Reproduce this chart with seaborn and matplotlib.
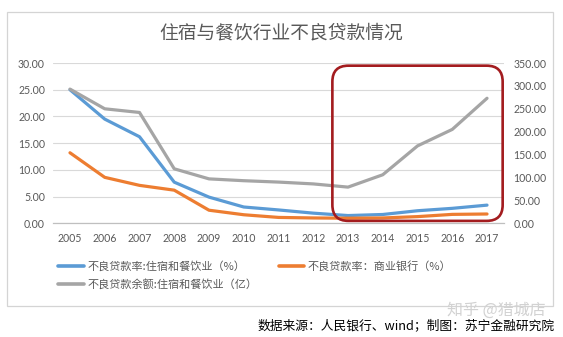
import numpy as np
import pandas as pd
import matplotlib
matplotlib.use("Agg")
import matplotlib.pyplot as plt
from matplotlib.patches import FancyBboxPatch, Rectangle
from matplotlib.transforms import IdentityTransform
from matplotlib.ticker import FormatStrFormatter, FixedLocator
import seaborn as sns

# ---- data ----
years = [2005, 2006, 2007, 2008, 2009, 2010, 2011, 2012, 2013, 2014, 2015, 2016, 2017]
npl_ratio_hotel = [25.0, 19.5, 16.2, 7.7, 4.9, 3.05, 2.5, 1.9, 1.45, 1.65, 2.35, 2.8, 3.4]
npl_ratio_bank = [13.2, 8.6, 7.1, 6.2, 2.45, 1.6, 1.1, 1.0, 0.95, 1.0, 1.25, 1.67, 1.74]
npl_balance_hotel = [293, 250, 242, 119, 97, 93, 90, 86, 79, 106, 169, 205, 273]

label_hotel = "不良贷款率:住宿和餐饮业（%）"
label_bank = "不良贷款率：商业银行（%）"
label_balance = "不良贷款余额:住宿和餐饮业（亿）"

df = pd.DataFrame({
    "year": years,
    "hotel": npl_ratio_hotel,
    "bank": npl_ratio_bank,
    "balance": npl_balance_hotel,
})

BLUE = "#5B9BD5"
ORANGE = "#ED7D31"
GREY = "#A5A5A5"
TEXT = "#595959"
CJK = ["Noto Sans CJK SC", "DejaVu Sans"]

sns.set_theme(style="white")
plt.rcParams["font.family"] = ["Lato", "Noto Sans CJK SC", "DejaVu Sans"]
plt.rcParams["axes.unicode_minus"] = False

fig = plt.figure(figsize=(5.63, 3.37), dpi=100)
fig.patch.set_facecolor("white")

# plot area in pixels: x 52.6..504.4, y 63..223.3 (from top)
W, H = 563, 337
ax = fig.add_axes([52.6 / W, 1 - 223.3 / H, (504.4 - 52.6) / W, (223.3 - 63) / H])
ax2 = ax.twinx()

lw = 2.3
sns.lineplot(data=df, x="year", y="hotel", ax=ax, color=BLUE, linewidth=lw,
             label=label_hotel, legend=False)
sns.lineplot(data=df, x="year", y="bank", ax=ax, color=ORANGE, linewidth=lw,
             label=label_bank, legend=False)
sns.lineplot(data=df, x="year", y="balance", ax=ax2, color=GREY, linewidth=lw,
             label=label_balance, legend=False)

# axes limits and ticks
ax.set_xlim(years[0] - 0.5, years[-1] + 0.5)
ax.set_ylim(0, 30)
ax2.set_ylim(0, 350)
ax.set_yticks(np.arange(0, 31, 5))
ax2.set_yticks(np.arange(0, 351, 50))
ax.yaxis.set_major_formatter(FormatStrFormatter("%.2f"))
ax2.yaxis.set_major_formatter(FormatStrFormatter("%.2f"))
ax.set_xticks(years)
ax.set_xticklabels([str(y) for y in years])
ax.xaxis.set_minor_locator(FixedLocator(np.arange(years[0] - 0.5, years[-1] + 1, 1)))

for a in (ax, ax2):
    a.set_xlabel("")
    a.set_ylabel("")
    for s in ("top", "left", "right"):
        a.spines[s].set_visible(False)
    a.spines["bottom"].set_color("#bfbfbf")
    a.spines["bottom"].set_linewidth(0.8)
    a.set_facecolor("none")

ax.tick_params(axis="x", which="major", length=0, pad=7, labelsize=7.6, labelcolor=TEXT)
ax.tick_params(axis="x", which="minor", length=3.5, width=0.8, color="#bfbfbf", direction="out")
ax.tick_params(axis="y", length=0, pad=5.5, labelsize=7.6, labelcolor=TEXT)
ax2.tick_params(axis="y", length=0, pad=6.5, labelsize=7.6, labelcolor=TEXT)

ax.grid(axis="y", color="#d9d9d9", linewidth=0.8)
ax.grid(axis="x", visible=False)
ax2.grid(False)
ax.set_axisbelow(True)

# title
fig.text(281 / W, 1 - 33 / H, "住宿与餐饮行业不良贷款情况", ha="center", va="center",
         fontsize=13.5, color=TEXT, family=CJK, fontweight="light")

# legend (order fills column-wise: blue, grey | orange)
h1, l1 = ax.get_legend_handles_labels()
h2, l2 = ax2.get_legend_handles_labels()
handles = [h1[0], h2[0], h1[1]]
labels = [l1[0], l2[0], l1[1]]
leg = fig.legend(handles, labels, loc="upper left", bbox_to_anchor=(58 / W, 1 - 261 / H),
                 ncol=2, frameon=False, handlelength=2.3, handletextpad=0.35,
                 columnspacing=1.9, labelspacing=0.6, borderpad=0, borderaxespad=0,
                 prop={"family": CJK, "size": 8, "weight": "light"})
for t in leg.get_texts():
    t.set_color(TEXT)
for lh in leg.legend_handles:
    lh.set_linewidth(2.6)

# chart frame
fig.add_artist(Rectangle((7 / W, 1 - 306 / H), (553 - 7) / W, (306 - 12) / H,
                         transform=fig.transFigure, fill=False, edgecolor="#d4d4d4",
                         linewidth=0.9))

# highlighted span 2013-2017
fig.canvas.draw()
(x0, y0), (x1, y1) = ax.transData.transform([(2012.55, 0.45), (2017.45, 29.5)])
box = FancyBboxPatch((x0, y0), x1 - x0, y1 - y0,
                     boxstyle="round,pad=0,rounding_size=16",
                     transform=IdentityTransform(), fill=False,
                     edgecolor="#A31C1F", linewidth=1.9, zorder=10)
fig.add_artist(box)

# watermark and source note
fig.text(496 / W, 1 - 310 / H, "知乎 @猎城店", ha="center", va="center", fontsize=11.5,
         color="#d2d2d2", family=CJK)
fig.text(555 / W, 1 - 326 / H, "数据来源：人民银行、wind；制图：苏宁金融研究院",
         ha="right", va="center", fontsize=9.2, color="black", style="italic",
         family=CJK)

fig.savefig("out.png", dpi=100, facecolor="white")
